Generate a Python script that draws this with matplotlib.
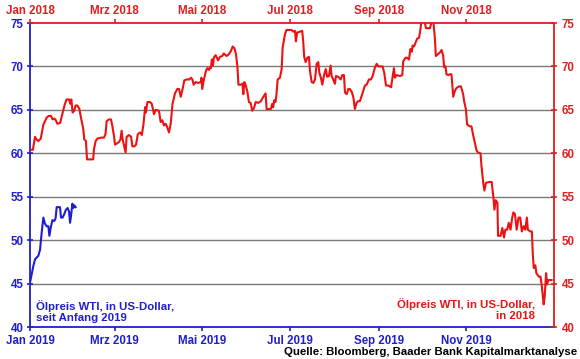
import matplotlib
matplotlib.use("Agg")
import matplotlib.pyplot as plt

# WTI 2018 (red), x = day of year
oil_2018_day = [0.7, 2, 3.5, 4.5, 5.8, 7.5, 9.3, 11.6, 13, 14.6, 15.8, 17, 18, 19, 21, 22.5, 24, 25.5,
                27.3, 28, 28.8, 29.7, 30.8, 31.8, 33, 34.4, 35.5, 37.1, 37.8, 39, 39.7, 41.8, 44, 44.6,
                45.7, 47, 49.5, 51.5, 52.6, 53.4, 55, 56.4, 57.3, 58.5, 59.2, 60.3, 62, 63, 63.8, 64.5,
                65.6, 66.6, 67.3, 69, 70.4, 71.3, 72.7, 73.9, 75.1, 76.7, 77.9, 79, 80.2, 80.7, 81.8,
                83.6, 84.8, 86.4, 87.5, 89.8, 91, 92.2, 93.3, 94.5, 95.6, 96.8, 98, 99.3, 101, 102.6,
                103.8, 105, 106.3, 107.5, 109.2, 111, 112.2, 113.1, 114, 115.5, 117, 119, 119.4, 120,
                121, 122.6, 123.5, 124.7, 125.3, 126, 126.7, 127.2, 127.6, 128, 129.3, 131, 132.3,
                133.9, 135, 136.9, 138.5, 140, 141.2, 142.4, 143.5, 144.5, 145.2, 146.8, 148, 148.6,
                149.3, 150.3, 151.4, 152.5, 153.7, 154.8, 156, 157.2, 159, 160.8, 162.5, 164.1, 164.8,
                166.4, 167.8, 168.7, 169.4, 170.1, 171, 171.7, 172.5, 174.1, 175.3, 176, 177.6, 178.7,
                180.4, 182.2, 183.4, 184.6, 185.2, 186.1, 188, 189.6, 190.3, 191, 192, 193.2, 194.3,
                195, 196.2, 197.4, 198.5, 199.7, 200.8, 201.5, 202.6, 203.6, 204.7, 206, 207, 208.2,
                209.4, 210.1, 211.2, 212.4, 213.1, 214.7, 216.4, 217.5, 218.7, 219.4, 220.6, 221.7,
                222.8, 224, 225.2, 226.3, 227.5, 228.6, 229.8, 231.4, 233.3, 234.5, 236.1, 237.5,
                238.7, 240.3, 241.5, 242.7, 244.2, 245.6, 246.7, 248, 249.6, 251.5, 252.7, 253.5,
                254.2, 255.3, 257.7, 259.3, 260, 261.6, 262.7, 264, 265, 266, 266.5, 267.5, 269.7,
                271, 272, 272.8, 274.5, 275.8, 278.6, 279.7, 281, 282, 282.7, 284.1, 285.5, 286.7,
                287.8, 288.5, 289.4, 290.1, 291.3, 292.5, 293.6, 294.8, 296, 297, 298.8, 300.2, 301.7,
                302.4, 303.6, 304.5, 306.4, 307.5, 308.8, 309.9, 311.1, 312, 313.8, 314.5, 315.7,
                316.5, 317.6, 320, 321.6, 322.8, 323.5, 324.4, 325.6, 326, 327.8, 329, 330.2, 331.1,
                332.4, 333.5, 334.7, 335.9, 336.7, 337.8, 339, 340.3, 341.5, 342.6, 343.8, 345, 346.1,
                346.8, 348.5, 349.6, 350.2, 350.9, 352, 352.7, 354.4, 355.6, 356.5, 357.8, 358.5,
                359.5, 360.2, 361, 363.3]
oil_2018_usd = [60.4, 60.4, 61.9, 61.6, 61.4, 61.7, 63.3, 64.1, 64.3, 64.3, 63.9, 64.0, 63.8, 63.4, 63.5,
                64.5, 65.5, 66.2, 66.2, 65.7, 66.2, 64.7, 64.9, 65.5, 65.5, 65.1, 64.1, 62.8, 61.6, 61.4,
                59.3, 59.3, 59.3, 60.5, 61.4, 61.7, 61.8, 61.8, 62.2, 63.7, 63.9, 63.9, 63.2, 62.0, 61.0,
                61.1, 61.3, 61.6, 62.6, 61.6, 60.8, 60.1, 61.9, 62.1, 61.9, 60.8, 60.8, 61.0, 62.2, 62.4,
                62.1, 63.3, 65.3, 64.7, 65.9, 65.9, 65.7, 64.5, 65.0, 64.9, 63.6, 63.8, 63.2, 63.4, 63.0,
                62.4, 63.4, 65.7, 66.9, 67.4, 67.4, 66.5, 67.4, 68.4, 68.5, 68.5, 68.7, 68.5, 67.9, 68.2,
                68.1, 68.2, 68.7, 67.4, 68.4, 69.5, 69.8, 69.6, 69.9, 69.8, 70.8, 70.1, 70.3, 71.0, 71.3,
                70.7, 71.1, 71.2, 71.5, 71.2, 71.4, 71.8, 72.3, 72.1, 71.4, 69.9, 67.9, 67.9, 68.0, 66.8,
                68.2, 67.8, 67.1, 65.9, 65.8, 64.9, 65.2, 65.9, 65.8, 66.0, 66.5, 66.9, 65.1, 65.1, 65.1,
                65.7, 65.3, 66.1, 65.9, 66.8, 68.5, 68.7, 69.7, 72.2, 73.7, 74.2, 74.2, 74.2, 74.0, 74.1,
                72.9, 73.9, 74.0, 74.1, 72.9, 71.1, 70.5, 71.0, 71.1, 69.5, 68.2, 68.1, 68.5, 70.3, 70.5,
                69.3, 68.7, 67.9, 68.9, 69.7, 68.8, 68.9, 70.1, 68.9, 68.5, 68.0, 68.9, 68.8, 68.5, 69.0,
                69.0, 67.0, 66.8, 67.4, 67.4, 67.1, 66.5, 65.1, 65.8, 66.0, 66.0, 66.8, 67.8, 67.9, 68.5,
                68.5, 68.9, 69.9, 70.3, 70.0, 70.0, 70.0, 69.3, 67.8, 67.8, 67.6, 68.9, 69.8, 68.7, 69.0,
                68.9, 69.0, 70.6, 71.0, 71.0, 70.8, 72.0, 71.7, 72.4, 72.3, 73.2, 73.3, 74.3, 75.5, 75.5,
                74.4, 74.4, 75.1, 75.1, 73.3, 71.2, 71.4, 71.6, 71.9, 71.2, 69.9, 70.0, 69.1, 69.0, 69.1,
                69.1, 66.5, 67.2, 67.5, 67.7, 67.7, 66.8, 66.0, 65.1, 63.3, 63.1, 63.1, 62.0, 61.2, 60.3,
                60.1, 60.0, 58.5, 56.6, 55.7, 56.6, 56.7, 56.7, 54.9, 53.5, 54.6, 54.3, 50.5, 50.5, 51.4,
                50.3, 51.2, 51.2, 52.0, 51.2, 52.6, 53.2, 53.0, 51.2, 52.6, 52.6, 51.0, 51.6, 51.2, 52.6,
                51.2, 51.0, 51.0, 48.5, 46.8, 47.1, 46.2, 45.8, 45.8, 44.7, 42.6, 43.5, 46.2, 44.9, 45.4,
                45.4]

# WTI since start of 2019 (blue)
oil_2019_day = [0, 1.2, 2.3, 3.5, 4.7, 5.8, 7, 8.1, 9.3, 10.4, 11.6, 12.8, 13.5, 14.4, 15.6, 16.9, 17.8,
                18.6, 19.8, 20.9, 21.6, 22.7, 23.9, 25, 26.2, 27.2, 27.9, 28.6, 29.5, 30.2, 30.9, 31.8]
oil_2019_usd = [45.1, 46.1, 47.0, 47.8, 48.0, 48.2, 48.9, 50.8, 52.6, 51.9, 51.6, 51.6, 50.5, 51.4, 52.3,
                52.2, 52.5, 53.8, 53.8, 53.8, 52.6, 52.6, 53.0, 53.5, 53.7, 53.3, 52.0, 52.8, 54.2, 53.7,
                54.0, 53.8]

month_days = [0, 59, 120, 181, 243, 304]
labels_2018 = ["Jan 2018", "Mrz 2018", "Mai 2018", "Jul 2018", "Sep 2018", "Nov 2018"]
labels_2019 = ["Jan 2019", "Mrz 2019", "Mai 2019", "Jul 2019", "Sep 2019", "Nov 2019"]
y_ticks = [40, 45, 50, 55, 60, 65, 70, 75]

RED = "#ee1111"
RED_AX = "#dd1f1f"
BLUE = "#1f1fcc"

plt.rcParams["font.family"] = ["Liberation Sans", "DejaVu Sans"]
plt.rcParams["font.weight"] = "bold"
plt.rcParams["font.size"] = 8.3

fig = plt.figure(figsize=(5.8, 3.59), dpi=100)
rect = [30 / 580, 32 / 359, 524 / 580, 304 / 359]

# 2019 axes: bottom + left
ax = fig.add_axes(rect)
ax.plot(oil_2019_day, oil_2019_usd, color=BLUE, lw=1.5, zorder=3)
ax.set_xlim(0, 365)
ax.set_ylim(40, 75)
ax.set_xticks(month_days)
ax.set_xticklabels(labels_2019, color=BLUE, fontweight="bold")
ax.set_yticks(y_ticks)
ax.set_yticklabels(y_ticks, color=BLUE, fontweight="bold")
for v in y_ticks[1:-1]:
    ax.axhline(v, color="#7a7a7a", lw=1.0, zorder=1)
ax.tick_params(axis="x", direction="out", length=3, width=1.2, color=BLUE, pad=2.5)
ax.tick_params(axis="y", direction="inout", length=5, width=1.2, color=BLUE, pad=2)
for s in ["top", "right"]:
    ax.spines[s].set_visible(False)
for s in ["left", "bottom"]:
    ax.spines[s].set_color(BLUE)
    ax.spines[s].set_linewidth(1.3)

# 2018 axes: top + right
ax2 = fig.add_axes(rect, label="y2018")
ax2.patch.set_visible(False)
ax2.plot(oil_2018_day, oil_2018_usd, color=RED, lw=1.5, zorder=3)
ax2.set_xlim(0, 365)
ax2.set_ylim(40, 75)
ax2.xaxis.tick_top()
ax2.yaxis.tick_right()
ax2.set_xticks(month_days)
ax2.set_xticklabels(labels_2018, color=RED_AX, fontweight="bold")
ax2.set_yticks(y_ticks)
ax2.set_yticklabels(y_ticks, color=RED_AX, fontweight="bold")
ax2.tick_params(axis="x", direction="out", length=3, width=1.2, color=RED_AX, pad=1.5)
ax2.tick_params(axis="y", direction="inout", length=5, width=1.2, color=RED_AX, pad=3)
for s in ["left", "bottom"]:
    ax2.spines[s].set_visible(False)
for s in ["top", "right"]:
    ax2.spines[s].set_color(RED_AX)
    ax2.spines[s].set_linewidth(1.3)

ax.text(4, 41.8, "Ölpreis WTI, in US-Dollar,\nseit Anfang 2019", color=BLUE,
        fontsize=8.2, fontweight="bold", ha="left", va="center", linespacing=1.2)
ax2.text(352, 42.0, "Ölpreis WTI, in US-Dollar,\nin 2018", color=RED,
         fontsize=8.2, fontweight="bold", ha="right", va="center", linespacing=1.2,
         multialignment="right")

fig.text(577 / 580, 2 / 359, "Quelle: Bloomberg, Baader Bank Kapitalmarktanalyse",
         ha="right", va="bottom", fontsize=8.2, fontweight="bold", color="black")

fig.savefig("out.png", dpi=100)
